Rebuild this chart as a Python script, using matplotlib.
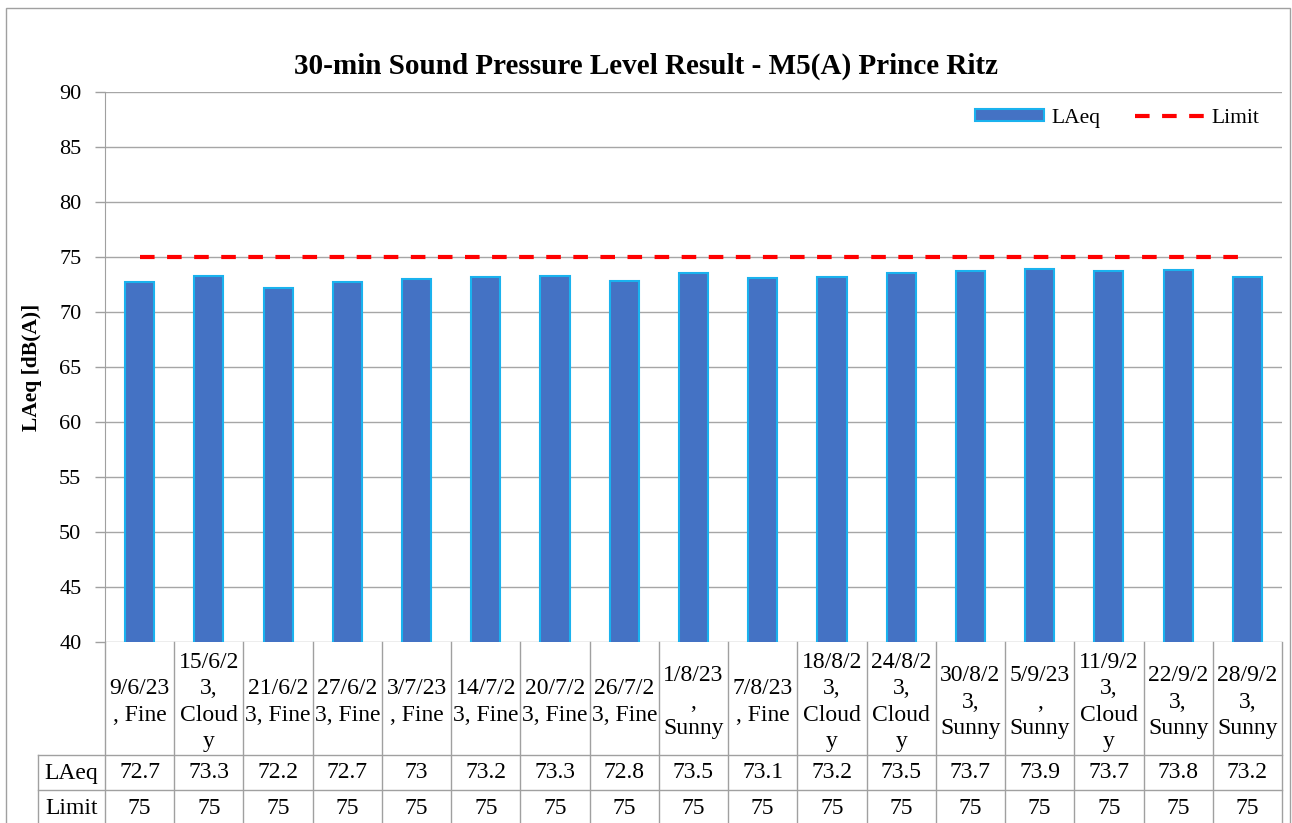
import matplotlib
matplotlib.use('Agg')
import matplotlib.pyplot as plt
import numpy as np
from matplotlib.patches import Rectangle
from matplotlib.lines import Line2D
import matplotlib.transforms as mtrans

plt.rcParams['font.family'] = ['Liberation Serif', 'DejaVu Serif']

# ---------------- data ----------------
dates = ['9/6/23\n, Fine', '15/6/2\n3,\nCloud\ny', '21/6/2\n3, Fine', '27/6/2\n3, Fine',
         '3/7/23\n, Fine', '14/7/2\n3, Fine', '20/7/2\n3, Fine', '26/7/2\n3, Fine',
         '1/8/23\n,\nSunny', '7/8/23\n, Fine', '18/8/2\n3,\nCloud\ny', '24/8/2\n3,\nCloud\ny',
         '30/8/2\n3,\nSunny', '5/9/23\n,\nSunny', '11/9/2\n3,\nCloud\ny', '22/9/2\n3,\nSunny',
         '28/9/2\n3,\nSunny']
laeq = [72.7, 73.3, 72.2, 72.7, 73.0, 73.2, 73.3, 72.8, 73.5, 73.1, 73.2, 73.5,
        73.7, 73.9, 73.7, 73.8, 73.2]
limit = [75] * 17
laeq_txt = ['72.7', '73.3', '72.2', '72.7', '73', '73.2', '73.3', '72.8', '73.5', '73.1',
            '73.2', '73.5', '73.7', '73.9', '73.7', '73.8', '73.2']

W, H = 1292, 823
fig = plt.figure(figsize=(W / 100, H / 100), dpi=100)

def fy(py):
    return 1 - py / H

# plot area in pixels: x 105..1282, y 92..642
ax = fig.add_axes([105 / W, fy(642), (1282 - 105) / W, (642 - 92) / H])
x = np.arange(len(laeq))
bars = ax.bar(x, laeq, width=0.42, color='#4472C4', edgecolor='#1AB2EE', linewidth=1.5,
              label='LAeq', zorder=3)
line, = ax.plot(x, limit, color='#FF0000', lw=3, dashes=(3.5, 3.0), dash_capstyle='butt',
                label='Limit', zorder=4)

ax.set_xlim(-0.5, len(laeq) - 0.5)
ax.set_ylim(40, 90)
ax.set_yticks(np.arange(40, 91, 5))
ax.set_xticks([])
ax.tick_params(axis='y', labelsize=16, length=7, color='#A0A0A0', width=1, pad=10)
ax.grid(axis='y', color='#A6A6A6', lw=1, zorder=0)
for s in ['top', 'right', 'bottom']:
    ax.spines[s].set_visible(False)
ax.spines['left'].set_color('#A0A0A0')
ax.set_ylabel('LAeq [dB(A)]', fontsize=15.5, fontweight='bold', labelpad=12)

ax.set_title('30-min Sound Pressure Level Result - M5(A) Prince Ritz', fontsize=21,
             fontweight='bold', pad=13, x=(646 - 105) / (1282 - 105))

ax.legend([bars, line], ['LAeq', 'Limit'], loc='upper right', ncol=2, frameon=False,
          fontsize=15.5, handlelength=3.2, handleheight=0.5, columnspacing=1.6,
          handletextpad=0.35, bbox_to_anchor=(0.997, 1.005))

# ---------------- data table ----------------
tr = mtrans.blended_transform_factory(ax.transData, fig.transFigure)
gc = '#A0A0A0'
bounds = np.arange(len(laeq) + 1) - 0.5
left_col = -0.5 - (105 - 38) / ((1282 - 105) / len(laeq))
for b in bounds:
    fig.add_artist(Line2D([b, b], [fy(642), fy(830)], transform=tr, color=gc, lw=1))
fig.add_artist(Line2D([left_col, left_col], [fy(755), fy(830)], transform=tr, color=gc, lw=1))
for py in [755, 790]:
    fig.add_artist(Line2D([left_col, bounds[-1]], [fy(py), fy(py)], transform=tr, color=gc, lw=1))

fs = 17
for i in range(len(laeq)):
    fig.text(i, fy(702), dates[i], transform=tr, ha='center', va='center', fontsize=fs,
             linespacing=1.32)
    fig.text(i, fy(773), laeq_txt[i], transform=tr, ha='center', va='center', fontsize=fs)
    fig.text(i, fy(808), str(limit[i]), transform=tr, ha='center', va='center', fontsize=fs)
fig.text((left_col - 0.5) / 2, fy(773), 'LAeq', transform=tr, ha='center', va='center', fontsize=fs)
fig.text((left_col - 0.5) / 2, fy(808), 'Limit', transform=tr, ha='center', va='center', fontsize=fs)

# outer chart border
fig.add_artist(Rectangle((6 / W, fy(840)), (1290 - 6) / W, (840 - 8) / H,
                         transform=fig.transFigure, fill=False, edgecolor='#A0A0A0', lw=1))

fig.savefig('out.png', dpi=100)
